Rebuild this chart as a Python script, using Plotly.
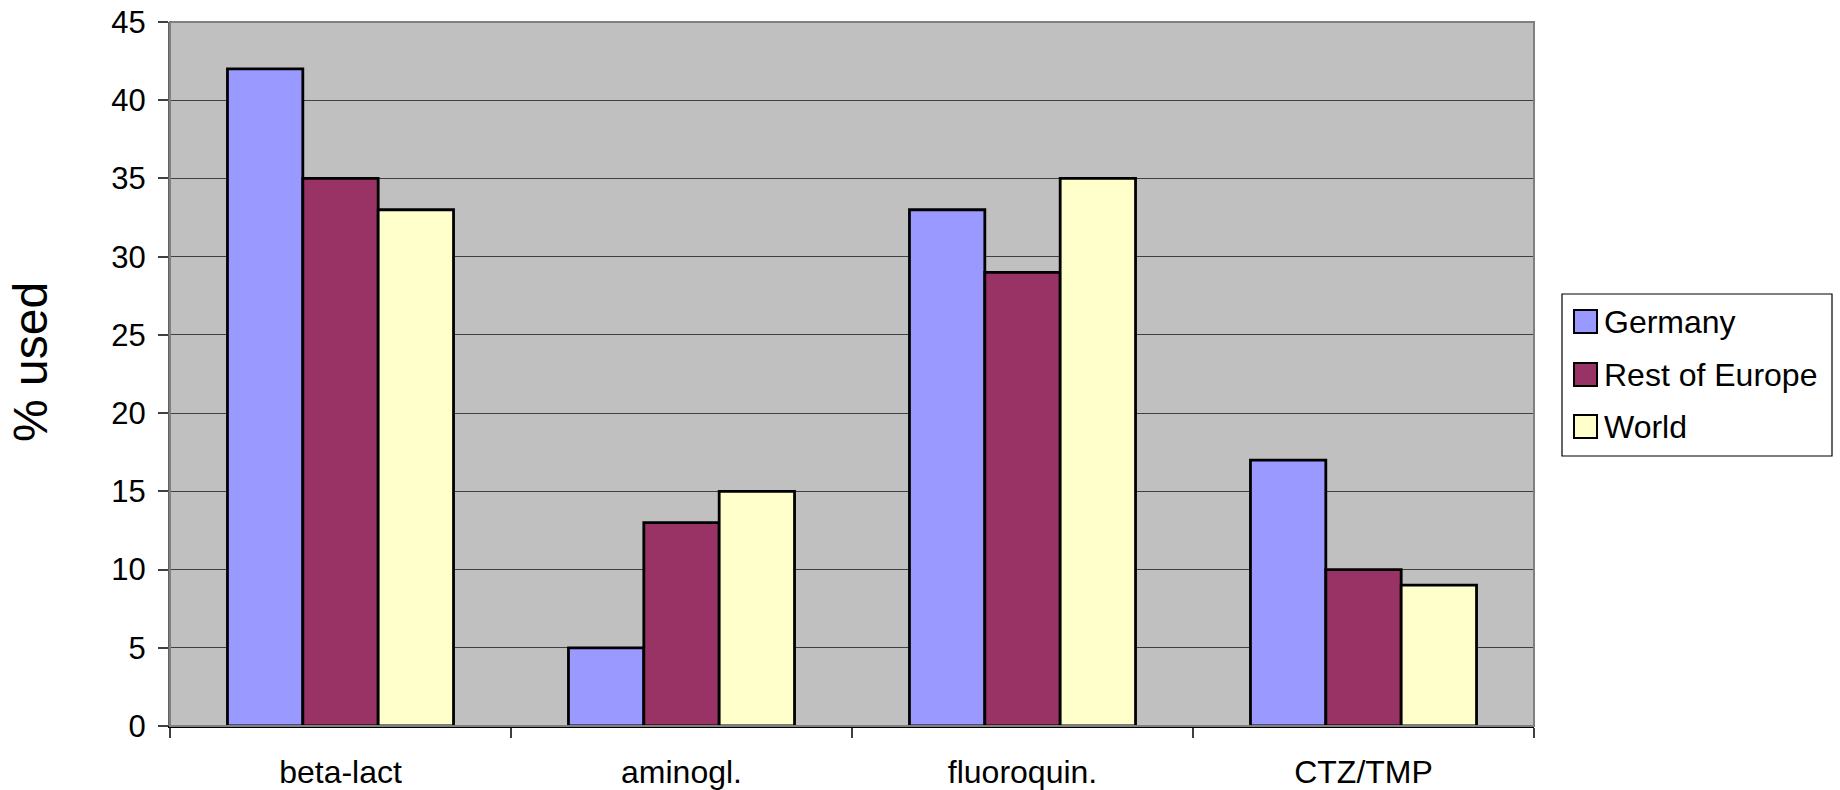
import plotly.graph_objects as go

# Share of antibiotic classes used, by region
categories = ["beta-lact", "aminogl.", "fluoroquin.", "CTZ/TMP"]
series_names = ["Germany", "Rest of Europe", "World"]
germany = [42, 5, 33, 17]
rest_of_europe = [35, 13, 29, 10]
world = [33, 15, 35, 9]
series_values = [germany, rest_of_europe, world]
series_colors = ["#9999FF", "#993366", "#FFFFCC"]
y_ticks = [0, 5, 10, 15, 20, 25, 30, 35, 40, 45]

W, H = 1840, 790
L, R, T, B = 170, 1534, 22, 726
FONT = "Liberation Sans, Arial, sans-serif"

fig = go.Figure()
for name, vals, col in zip(series_names, series_values, series_colors):
    fig.add_trace(go.Bar(
        x=categories, y=vals, name=name,
        marker=dict(color=col, line=dict(color="black", width=2.8)),
        showlegend=False,
    ))


def px_x(p):
    return (p - L) / (R - L)


def px_y(p):
    return (B - p) / (B - T)


shapes = [
    # plot frame (top and right edges in grey)
    dict(type="rect", xref="paper", yref="paper", x0=0, x1=1, y0=0, y1=1,
         line=dict(color="#808080", width=2), layer="above"),
    # legend box
    dict(type="rect", xref="paper", yref="paper",
         x0=px_x(1562), x1=px_x(1832), y0=px_y(456), y1=px_y(294),
         line=dict(color="black", width=1.2), fillcolor="white"),
]
annotations = []
row_y = [322, 375, 427]
for name, col, cy in zip(series_names, series_colors, row_y):
    shapes.append(dict(type="rect", xref="paper", yref="paper",
                       x0=px_x(1574), x1=px_x(1597),
                       y0=px_y(cy + 11), y1=px_y(cy - 12),
                       fillcolor=col, line=dict(color="black", width=2)))
    annotations.append(dict(xref="paper", yref="paper", x=px_x(1602), y=px_y(cy),
                            text=name, showarrow=False, xanchor="left", yanchor="middle",
                            font=dict(family=FONT, size=32, color="black")))

# y-axis title
annotations.append(dict(xref="paper", yref="paper", x=px_x(30), y=px_y(362),
                        text="% used", textangle=-90, showarrow=False,
                        xanchor="center", yanchor="middle",
                        font=dict(family=FONT, size=48, color="black")))

fig.update_layout(
    width=W, height=H,
    margin=dict(l=L, r=W - R, t=T, b=H - B, pad=0, autoexpand=False),
    paper_bgcolor="white", plot_bgcolor="#C0C0C0",
    barmode="group", bargap=0.337, bargroupgap=0,
    font=dict(family=FONT, size=32, color="black"),
    shapes=shapes, annotations=annotations,
    xaxis=dict(
        automargin=False,
        showgrid=False, showline=True, linecolor="black", linewidth=2,
        ticks="outside", tickson="boundaries", ticklen=10, tickcolor="#404040",
        tickwidth=2, ticklabelstandoff=17,
        tickfont=dict(family=FONT, size=32, color="black"),
    ),
    yaxis=dict(
        automargin=False,
        range=[0, 45], tickvals=y_ticks, showgrid=True, gridcolor="#404040",
        gridwidth=1.3, zeroline=False, showline=True, linecolor="#606060", linewidth=2,
        ticks="outside", ticklen=10, tickcolor="#404040", tickwidth=2,
        ticklabelstandoff=6,
        tickfont=dict(family=FONT, size=31, color="black"),
    ),
)

fig.write_html("out.html")
